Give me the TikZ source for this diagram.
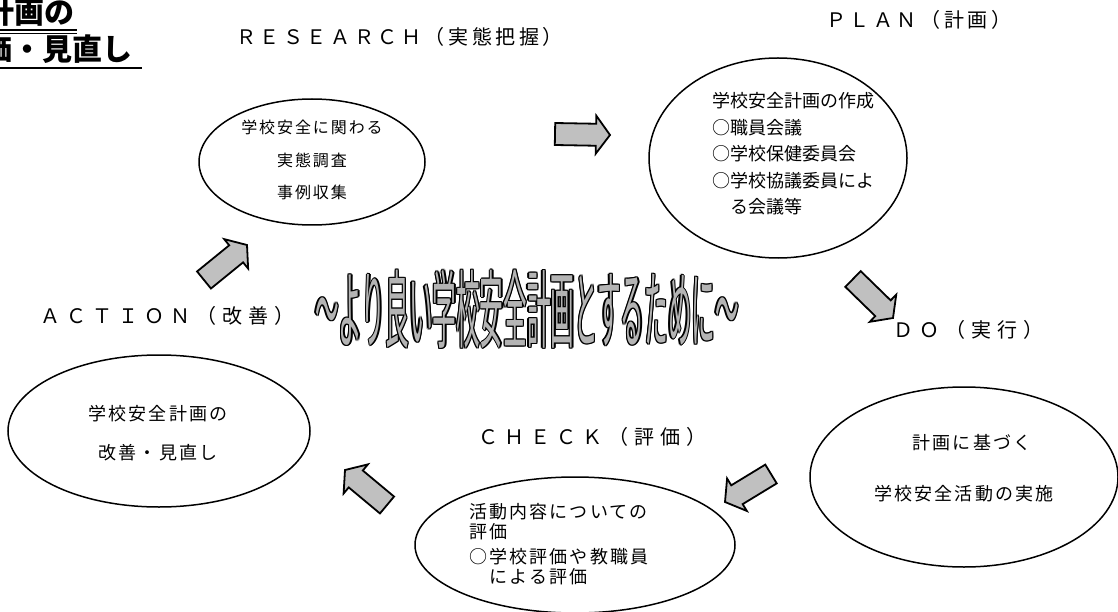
\documentclass[tikz,border=0pt]{standalone}
\usepackage{fontspec}
\setmainfont{Noto Sans CJK JP}
\newfontfamily\hdrfont{Noto Sans CJK JP}[LetterSpace=18]
\newfontfamily\hdrwidefont{Noto Sans CJK JP}[LetterSpace=30]
\newfontfamily\bodyfont{Noto Sans CJK JP}[LetterSpace=12]
\newfontfamily\plainfont{Noto Sans CJK JP}
\usetikzlibrary{calc,shapes.geometric}
\definecolor{arrowgray}{HTML}{C0C0C0}
\definecolor{titlegray}{HTML}{B4B4B4}
\tikzset{
  ell/.style={draw=black, line width=1.5pt, ellipse, fill=white, inner sep=0pt},
  body/.style={inner sep=0pt},
  hdr/.style={font=\hdrfont\fontsize{20}{20}\selectfont, anchor=west, inner sep=0pt},
  hdrwide/.style={font=\hdrwidefont\fontsize{20}{20}\selectfont, anchor=west, inner sep=0pt},
  barrow/.style={draw=black, line width=1.8pt, fill=arrowgray, line join=miter},
  tl/.style={font=\fontsize{30}{30}\selectfont\bfseries, inner sep=0pt, anchor=base east},
  uline/.style={line width=2pt},
  ttl/.style={font=\fontsize{40}{40}\selectfont, inner sep=0pt},
}
\newcommand\bodysz[2]{\bodyfont\fontsize{#1}{#2}\selectfont}
\newcommand\blockarrow[2]{%
  \coordinate (#1-b) at ($(#2)!14pt!(#1)$);
  \path[barrow] ($(#1)!11pt!90:(#2)$) -- ($(#1-b)!11pt!90:(#2)$) -- ($(#1-b)!19pt!90:(#2)$) -- (#2) -- ($(#1-b)!19pt!-90:(#2)$) -- ($(#1-b)!11pt!-90:(#2)$) -- ($(#1)!11pt!-90:(#2)$) -- cycle;}
\newcommand\titletext{\scalebox{0.59}[2.12]{～より良い学校安全計画とするために～}}
\begin{document}
\begin{tikzpicture}[x=1pt,y=-1pt]
\fill[white] (0,0) rectangle (1118,612);
\useasboundingbox (0,0) rectangle (1118,612);

% top-left title
\node[tl] (tl1) at (75,24) {学校安全計画の};
\node[tl] (tl2) at (133,61) {評価・見直し};
\draw[uline] (-10,30) -- (77,30);
\draw[line width=1.2pt] (-10,33.5) -- (77,33.5);
\draw[uline] (-10,68) -- (142,68);

% headers
\node[hdr] (hres) at (236,37) {ＲＥＳＥＡＲＣＨ（実態把握）};
\node[hdr] (hplan) at (826,20) {ＰＬＡＮ（計画）};
\node[hdrwide] (hact) at (40,316) {ＡＣＴＩＯＮ（改善）};
\node[hdrwide] (hdo) at (893,330) {ＤＯ（実行）};
\node[hdrwide] (hchk) at (478,437) {ＣＨＥＣＫ（評価）};

% ellipses
\node[ell, minimum width=226, minimum height=126] (eres) at (312,162) {};
\node[ell, minimum width=258, minimum height=200] (eplan) at (778,158) {};
\node[ell, minimum width=308, minimum height=180] (edo) at (964,477) {};
\node[ell, minimum width=320, minimum height=136] (echk) at (575,545) {};
\node[ell, minimum width=302, minimum height=152] (eact) at (159,431) {};

% texts
\node[body, align=center, font=\bodysz{16}{32.5}] (tres) at (312,160) {学校安全に関わる\\実態調査\\事例収集};
\node[body, align=left, anchor=west, font=\plainfont\fontsize{18}{26.5}\selectfont] (tplan) at (712,154) {学校安全計画の作成\\○職員会議\\○学校保健委員会\\○学校協議委員によ\\　る会議等};
\node[body, font=\bodysz{18}{18}] (tdo1) at (972,443) {計画に基づく};
\node[body, font=\bodysz{18}{18}] (tdo2) at (964,494) {学校安全活動の実施};
\node[body, align=left, anchor=west, font=\bodysz{18}{19.5}] (tchk) at (469,544) {活動内容についての\\評価\\[6pt]○学校評価や教職員\\　による評価};
\node[body, align=center, font=\bodysz{18}{39}] (tact) at (158,433) {学校安全計画の\\改善・見直し};

% block arrows
\coordinate (a1t) at (555,134); \coordinate (a1p) at (610,135);
\coordinate (a2t) at (853,279); \coordinate (a2p) at (893,318);
\coordinate (a3t) at (771,474); \coordinate (a3p) at (725,502);
\coordinate (a4t) at (387,505); \coordinate (a4p) at (345,470);
\coordinate (a5t) at (204,280); \coordinate (a5p) at (247,245);
\blockarrow{a1t}{a1p}
\blockarrow{a2t}{a2p}
\blockarrow{a3t}{a3p}
\blockarrow{a4t}{a4p}
\blockarrow{a5t}{a5p}

% central title (outlined)
\coordinate (tc) at (527,309);
\foreach \dx/\dy in {1.3/0,-1.3/0,0/1.3,0/-1.3,0.9/0.9,0.9/-0.9,-0.9/0.9,-0.9/-0.9}
  \node[ttl, text=black] at ($(tc)+(\dx,\dy)$) {\titletext};
\node[ttl, text=titlegray] (title) at (tc) {\titletext};
\end{tikzpicture}
\end{document}
